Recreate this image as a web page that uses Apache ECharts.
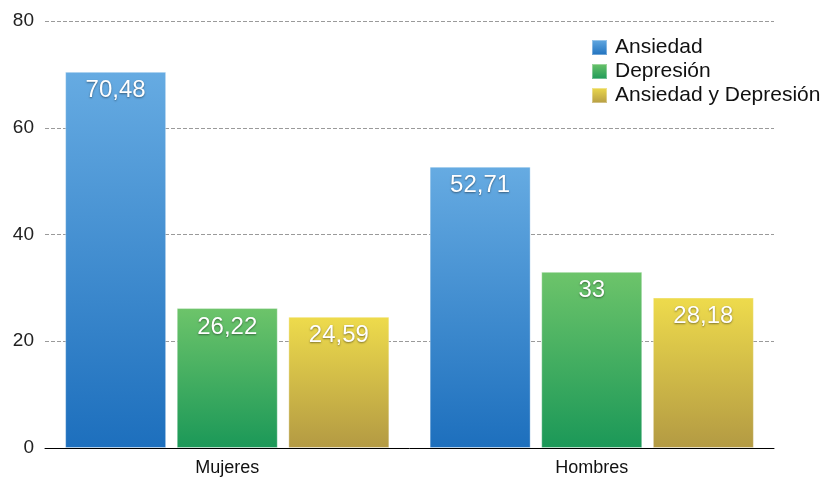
<!DOCTYPE html>
<html><head><meta charset="utf-8">
<script src="https://cdn.jsdelivr.net/npm/echarts@6/dist/echarts.min.js"></script>
<style>html,body{margin:0;padding:0;background:#fff}#c{width:823px;height:477px}</style>
</head><body><div id="c"></div>
<script>
var categories = ['Mujeres', 'Hombres'];
var seriesNames = ['Ansiedad', 'Depresión', 'Ansiedad y Depresión'];
var ansiedad = [70.48, 52.71];
var depresion = [26.22, 33];
var ansiedadYDepresion = [24.59, 28.18];
var yTicks = [0, 20, 40, 60, 80];

var gradients = [
  ['#66abe2', '#1d6fbd'],
  ['#6dc46a', '#1b9858'],
  ['#eedb4c', '#b39a43']
];
function grad(c){
  return new echarts.graphic.LinearGradient(0,0,0,1,[{offset:0,color:c[0]},{offset:1,color:c[1]}]);
}
var font = '"Liberation Sans", Helvetica, Arial, sans-serif';
var dataSets = [ansiedad, depresion, ansiedadYDepresion];
var series = dataSets.map(function(d, i){
  return {
    name: seriesNames[i], type: 'bar', data: d,
    barWidth: 101, barGap: '10.5%',
    itemStyle: { color: grad(gradients[i]), borderColor: 'rgba(255,255,255,0.35)', borderWidth: 1 },
    label: {
      show: true, position: 'insideTop', distance: 7,
      color: '#fff', fontSize: 24, fontFamily: font,
      textShadowColor: 'rgba(0,0,0,0.45)', textShadowBlur: 2, textShadowOffsetY: 1,
      formatter: function(p){ return String(p.value).replace('.', ','); }
    }
  };
});
var chart = echarts.init(document.getElementById('c'));
chart.setOption({
  animation: false,
  grid: { left: 45, right: 49, top: 21, bottom: 28, containLabel: false },
  legend: {
    orient: 'vertical', left: 586, top: 32, itemWidth: 15, itemHeight: 15, itemGap: 3,
    icon: 'rect', data: seriesNames,
    textStyle: { fontSize: 21, lineHeight: 21, color: '#111', fontFamily: font, padding: [0,0,0,3] }
  },
  xAxis: {
    type: 'category', data: categories,
    axisLine: { lineStyle: { color: '#000', width: 1 } },
    axisTick: { show: false },
    axisLabel: { fontSize: 18, color: '#111', fontFamily: font, margin: 11 }
  },
  yAxis: {
    type: 'value', min: yTicks[0], max: yTicks[yTicks.length-1], interval: 20,
    axisLine: { show: false }, axisTick: { show: false },
    axisLabel: { fontSize: 19, color: '#222', fontFamily: font, margin: 11 },
    splitLine: { lineStyle: { color: '#9a9a9a', type: [4, 2], width: 1 } }
  },
  series: series
});
</script></body></html>
